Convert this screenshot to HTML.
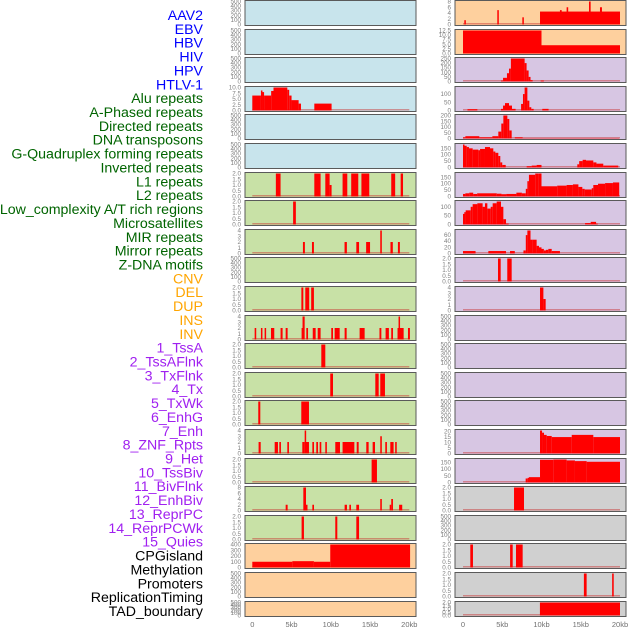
<!DOCTYPE html>
<html><head><meta charset="utf-8"><style>
html,body{margin:0;padding:0;background:#fff;}
svg{display:block;font-family:"Liberation Sans",sans-serif;}
</style></head><body>
<svg id="chart" width="630" height="630" viewBox="0 0 630 630" xmlns="http://www.w3.org/2000/svg"></svg>
<script>
// ---- data ----
const trackLabels = ["AAV2","EBV","HBV","HIV","HPV","HTLV-1","Alu repeats","A-Phased repeats","Directed repeats","DNA transposons","G-Quadruplex forming repeats","Inverted repeats","L1 repeats","L2 repeats","Low_complexity A/T rich regions","Microsatellites","MIR repeats","Mirror repeats","Z-DNA motifs","CNV","DEL","DUP","INS","INV","1_TssA","2_TssAFlnk","3_TxFlnk","4_Tx","5_TxWk","6_EnhG","7_Enh","8_ZNF_Rpts","9_Het","10_TssBiv","11_BivFlnk","12_EnhBiv","13_ReprPC","14_ReprPCWk","15_Quies","CPGisland","Methylation","Promoters","ReplicationTiming","TAD_boundary"];
const labelGroups = ["v","v","v","v","v","v","r","r","r","r","r","r","r","r","r","r","r","r","r","s","s","s","s","s","c","c","c","c","c","c","c","c","c","c","c","c","c","c","c","o","o","o","o","o"];
const xTickValues = [0,5,10,15,20];
const xTickLabels = ["0","5kb","10kb","15kb","20kb"];
const leftBg = ["b","b","b","b","b","b","g","g","g","g","g","g","g","g","g","g","g","g","g","o","o","o"];
const rightBg = ["o","o","p","p","p","p","p","p","p","p","p","p","p","p","p","p","p","y","y","y","y","y"];
const leftYmax = [500,500,500,10,500,500,2,2,4,500,2,4,2,2,2,4,2,8,2,400,500,500];
const rightYmax = [8,12.5,250,140,200,180,180,130,75,2,4,500,500,500,500,21,172,2,500,2,2,2];
// segments: [startKb, endKb, value]
const L0=[],L1=[],L2=[],L4=[],L5=[],L9=[],L20=[],L21=[];
const L3=[[0,1.1,6.5],[1.1,1.25,8.7],[1.25,1.5,8],[1.5,2.4,6.5],[2.4,2.7,8.5],[2.7,4.46,10],[4.46,4.7,9],[4.7,5.0,6.5],[5.0,5.9,4.5],[5.9,6.2,3],[7.9,10.1,3]];
const L6=[[3.0,3.6,2],[7.9,8.7,2],[9.3,9.85,2],[9.85,10.1,1],[11.5,12.1,2],[12.6,13.5,2],[13.9,14.9,2],[17.7,18.2,2],[18.9,19.2,2]];
const L7=[[5.2,5.55,2]];
const L8=[[6.45,6.7,2],[7.6,7.85,2],[11.75,12.05,2],[13.25,13.6,2],[14.5,15.0,2],[16.3,16.5,4],[17.6,17.9,2],[18.55,18.8,2]];
const L10=[[6.25,6.5,2],[6.75,7.25,2],[7.5,7.85,2]];
const L11=[[0.3,0.5,2],[1.1,1.27,2],[1.57,1.74,2],[2.38,2.8,2],[3.6,3.86,2],[4.25,4.5,2],[6.28,6.4,2],[6.4,6.67,4],[6.88,7.1,2],[7.7,8.07,2],[8.33,8.7,2],[10.06,10.28,2],[10.49,11.13,2],[11.76,12.02,2],[13.67,14.31,2],[16.2,16.44,2],[16.98,17.4,2],[17.7,17.92,2],[18.5,18.63,2],[18.63,18.8,4],[18.8,19.28,2],[19.83,20.08,2]];
const L12=[[8.79,9.3,2]];
const L13=[[9.93,10.28,2],[15.67,16.1,2],[16.3,16.9,2]];
const L14=[[0.76,1.02,2],[6.24,7.22,2]];
const L15=[[0.8,1.07,2],[2.85,3.27,2],[3.44,3.65,2],[4.46,4.67,2],[6.37,6.67,2],[6.67,6.84,4],[6.84,7.22,2],[7.65,7.86,2],[8.15,8.37,2],[8.58,8.79,2],[9.3,9.5,2],[10.57,11.17,2],[11.5,13.0,2],[13.3,13.55,2],[14.52,14.82,2],[15.33,15.63,2],[16.3,16.5,3],[16.94,17.15,2],[17.58,18.0,2],[18.2,18.4,2]];
const L16=[[15.2,15.88,2]];
const L17=[[4.25,4.5,2],[6.5,6.84,8],[6.84,7.0,2],[7.65,7.86,2],[11.76,12.06,2],[12.36,12.57,2],[13.25,13.6,2],[16.3,16.5,4],[17.5,17.7,2],[17.7,17.92,4],[18.7,19.1,2]];
const L18=[[6.28,6.58,2],[10.57,10.83,2],[13.25,13.6,2]];
const L19=[[0,5.1,100],[5.1,7.85,110],[7.85,9.93,100],[9.93,20.1,400]];
const R0=[[0.17,0.34,1.5],[4.37,4.54,5],[7.56,7.73,2.5],[9.81,20,4.5],[12.35,12.57,5],[13.2,13.4,6],[16.05,16.26,8],[17.45,17.7,6]];
const R1=[[0,10,12.5],[10,20,4.5]];
const R2=[[4.84,5.1,10],[5.1,5.6,40],[5.6,5.86,90],[5.86,6.1,140],[6.1,7.85,250],[7.85,8.1,200],[8.1,8.36,120],[8.36,8.6,50],[8.6,8.87,15],[9.89,10.3,10]];
const R3=[[0.57,1.83,8],[4.84,5.1,10],[5.1,5.35,30],[5.35,5.86,45],[5.86,6.24,30],[6.1,6.7,10],[7.4,7.64,40],[7.64,7.85,100],[7.85,8.2,140],[8.2,8.45,60],[8.45,8.7,20],[8.7,9.0,10],[10.1,10.9,10]];
const R4=[[0,0.3,10],[0.3,2.08,20],[2.08,3.74,10],[3.74,4.5,20],[4.5,4.88,60],[4.88,5.14,130],[5.14,5.65,200],[5.65,5.9,170],[5.9,6.2,70],[6.6,7.6,10],[7.6,19.9,3]];
const R5=[[0,0.17,180],[0.17,0.47,170],[0.47,0.76,160],[0.76,1.23,150],[1.23,1.95,140],[1.95,2.17,135],[2.17,2.8,145],[2.8,3.44,160],[3.44,3.86,150],[3.86,4.12,125],[4.12,4.5,115],[4.5,4.75,90],[4.75,5.0,40],[5.0,5.44,20],[8.11,8.75,10],[8.75,9.38,15],[9.38,10.0,20],[14.56,14.8,25],[14.8,15.24,50],[15.24,15.67,60],[15.67,16.6,55],[16.6,17.0,40],[17.0,17.87,30],[17.87,19.78,15]];
const R6=[[0,0.3,20],[0.3,0.8,25],[0.8,1.3,30],[1.3,1.8,20],[1.8,4.3,25],[4.3,4.9,22],[4.9,5.5,18],[5.5,6.8,20],[6.8,7.5,30],[7.5,8.0,25],[8.0,8.2,60],[8.2,8.4,120],[8.4,9.2,170],[9.2,9.6,180],[9.6,10.0,190],[10.0,12.0,80],[12.0,13.2,85],[13.2,14.0,90],[14.0,14.7,95],[14.7,15.2,75],[15.2,15.5,60],[15.5,16.4,55],[16.4,16.6,65],[16.6,17.2,90],[17.2,18.1,100],[18.1,19.1,105],[19.1,19.9,110]];
const R7=[[0,0.17,60],[0.17,0.34,70],[0.34,0.98,80],[0.98,1.23,100],[1.23,1.83,115],[1.83,2.5,120],[2.5,2.8,100],[2.8,3.1,120],[3.1,3.53,90],[3.53,3.78,100],[3.78,4.29,120],[4.29,4.84,130],[4.84,5.14,100],[5.14,5.48,30],[5.48,5.82,5],[15.55,16.27,8],[16.27,16.95,15],[16.95,17.16,5]];
const R8=[[0,1.6,8],[3.23,5.48,8],[5.99,6.6,8],[7.7,8.0,10],[8.0,8.2,60],[8.2,8.6,75],[8.6,8.87,45],[8.87,9.38,45],[9.38,9.68,25],[9.68,10.0,20],[10.0,10.3,15],[10.3,10.57,10],[10.57,10.87,12],[10.87,11.3,15],[11.3,12.35,8]];
const R9=[[4.46,4.8,2],[5.64,6.2,2]];
const R10=[[9.81,10.24,4],[10.24,10.53,2]];
const R11=[],R12=[],R13=[],R14=[],R18=[];
const R15=[[9.81,10.07,21],[10.07,10.32,19],[10.32,10.66,17],[10.66,11.3,16],[11.3,13.85,15],[13.85,16.6,17],[16.6,20,15]];
const R16=[[7.98,8.24,30],[8.24,8.4,35],[8.4,9.81,40],[9.81,11.5,170],[11.5,13.2,172],[13.2,14.26,165],[14.26,15.75,160],[15.75,20,155]];
const R17=[[6.5,7.77,2]];
const R19=[[0.93,1.27,2],[6.0,6.33,2],[6.75,7.6,2]];
const R20=[[15.4,15.75,2],[19.0,19.2,2]];
const R21=[[9.8,20,2]];
const leftData=[L0,L1,L2,L3,L4,L5,L6,L7,L8,L9,L10,L11,L12,L13,L14,L15,L16,L17,L18,L19,L20,L21];
const rightData=[R0,R1,R2,R3,R4,R5,R6,R7,R8,R9,R10,R11,R12,R13,R14,R15,R16,R17,R18,R19,R20,R21];
const tickSets={
 500:[0,100,200,300,400,500],2:[0,0.5,1,1.5,2],4:[0,1,2,3,4],8:[0,2,4,6,8],10:[0,2.5,5,7.5,10],
 12.5:[0,2.5,5,7.5,10,12.5],250:[0,50,100,150,200,250],140:[0,50,100],200:[0,50,100,150,200],
 180:[0,50,100,150],130:[0,50,100],75:[0,20,40,60],21:[0,5,10,15,20],172:[0,50,100,150],400:[0,100,200,300,400]};
const decimalTicks={2:1,10:1,12.5:1};

// ---- drawing ----
const NS="http://www.w3.org/2000/svg";
const svg=document.getElementById('chart');
const bgColors={b:"#c8e4ec",g:"#c8e1a6",o:"#fed09e",p:"#d7c6e3",y:"#d0d0d0"};
const groupColors={v:"#0000ff",r:"#006400",s:"#ffa500",c:"#a020f0",o:"#000000"};
function mk(tag,attrs,parent){const e=document.createElementNS(NS,tag);for(const k in attrs)e.setAttribute(k,attrs[k]);(parent||svg).appendChild(e);return e;}
function rowTop(i){return Math.round(i*28.6)+0.5;}
function rowH(i){return i===21?15:25;}

trackLabels.forEach((t,i)=>{
  const el=mk('text',{x:203,y:15+i*13.86+5,'text-anchor':'end','font-size':'14.2',fill:groupColors[labelGroups[i]]});
  el.textContent=t;
  
  
});

function drawCol(col,bgArr,ymaxArr,dataArr){
  const boxL=col===0?245:455, boxR=col===0?416:626, x0=col===0?252.3:463;
  const xs=kb=>x0+kb*7.85;
  for(let i=0;i<22;i++){
    const top=rowTop(i),h=rowH(i);
    const g=mk('g',{});
    
    
    const bg=mk('rect',{x:boxL,y:top,width:boxR-boxL,height:h,fill:bgColors[bgArr[i]],stroke:'#5a5a5a','stroke-width':1},g);
    
    
    const ymax=ymaxArr[i], y0=top+h-1, y1=top+1;
    const ys=v=>y0-(v/ymax)*(y0-y1);
    const data=dataArr[i];
    if(data.length){
      const bl=mk('rect',{x:xs(0),y:y0-1.5,width:xs(20)-xs(0),height:1.5,fill:'rgba(200,40,40,0.45)'},g);
      
      
    }
    data.forEach(s=>{
      const v=Math.min(s[2],ymax);
      const w=Math.max(xs(s[1])-xs(s[0]),1.5);
      const r=mk('rect',{x:xs(s[0]),y:ys(v),width:w,height:y0-ys(v),fill:'#ff0000'},g);
      
      
    });
    const ticks=tickSets[ymax];
    ticks.forEach(tv=>{
      const t=mk('text',{x:boxL-4,y:ys(tv)+2,'text-anchor':'end','font-size':'6.3',fill:'#808080'},g);
      t.textContent=decimalTicks[ymax]?tv.toFixed(1):String(tv);
      
      
    });
  }
  xTickValues.forEach((v,k)=>{
    const t=mk('text',{x:xs(v),y:627,'text-anchor':'middle','font-size':'7.5',fill:'#707070'});
    t.textContent=xTickLabels[k];
    
    
  });
}
drawCol(0,leftBg,leftYmax,leftData);
drawCol(1,rightBg,rightYmax,rightData);
</script>
</body></html>
